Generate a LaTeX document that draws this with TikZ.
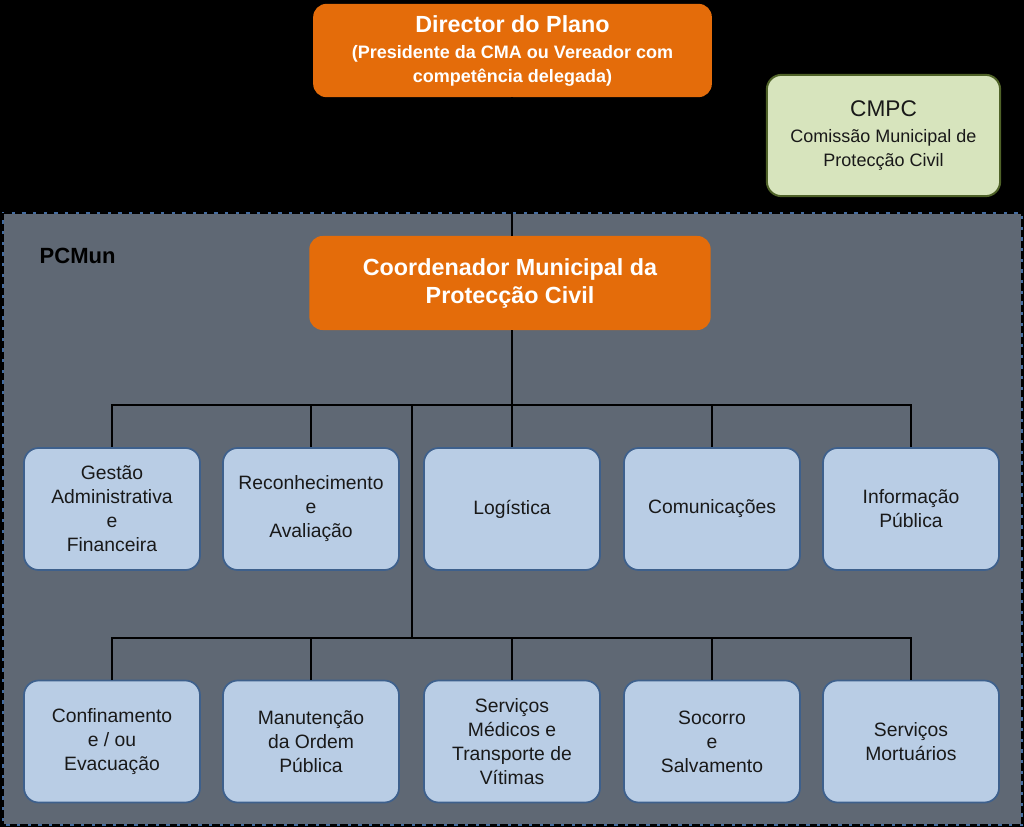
\documentclass[tikz,border=0pt]{standalone}
\usepackage{fontspec}
\setmainfont{Liberation Sans}
\usepackage{xcolor}
\usetikzlibrary{calc}

\definecolor{planOrange}{RGB}{228,108,10}
\definecolor{cellBlue}{RGB}{185,205,229}
\definecolor{cellEdge}{RGB}{62,96,140}
\definecolor{pcFill}{RGB}{95,104,116}
\definecolor{pcEdge}{RGB}{68,108,160}
\definecolor{cmpcFill}{RGB}{215,228,189}
\definecolor{cmpcEdge}{RGB}{79,98,40}

\tikzset{
  orangebox/.style={draw=none, fill=planOrange, rounded corners=10pt, text=white,
    align=center},
  cellbox/.style={draw=cellEdge, line width=1.3pt, fill=cellBlue, rounded corners=11pt,
    minimum width=132pt, minimum height=91.5pt, align=center, text=black!90,
    font=\fontsize{14.5}{18}\selectfont},
  wire/.style={line width=1.5pt, black}
}

\begin{document}
\begin{tikzpicture}[x=0.75pt, y=-0.75pt]

% =====================
% Page background
% =====================
\fill[black] (0,0) rectangle (1024,827);
\useasboundingbox (0,0) rectangle (1024,827);

% =====================
% PCMun area (dashed frame)
% =====================
\fill[pcFill] (3,213) rectangle (1022,825);
\draw[pcEdge, line width=1.6pt] (3,213) rectangle (1022,825);
\draw[black, line width=1.6pt, dash pattern=on 5.5pt off 2.5pt] (3,213) rectangle (1022,825);
\node[anchor=west, font=\fontsize{16.5}{20}\selectfont\bfseries, text=black] (pcmun) at (35,256) {PCMun};

% =====================
% Director and CMPC
% =====================
\node[orangebox, minimum width=299pt, minimum height=70pt,
  font=\fontsize{13.5}{18}\selectfont\bfseries] (dir) at (512.5,50.5)
  {{\fontsize{17.5}{20}\selectfont Director do Plano}\\[1.5pt]
   (Presidente da CMA ou Vereador com\\
   competência delegada)};

\node[draw=cmpcEdge, line width=1.5pt, fill=cmpcFill, rounded corners=11pt,
  minimum width=175pt, minimum height=91pt, align=center, text=black!90,
  font=\fontsize{13.5}{17.5}\selectfont] (cmpc) at (883.5,135.5)
  {{\fontsize{17}{20}\selectfont CMPC}\\[2pt]
   Comissão Municipal de\\
   Protecção Civil};

% =====================
% Coordinator
% =====================
\node[orangebox, minimum width=301pt, minimum height=70.5pt,
  font=\fontsize{17.5}{21}\selectfont\bfseries] (coord) at (510,283)
  {Coordenador Municipal da\\Protecção Civil};

% =====================
% First row
% =====================
\node[cellbox] (gaf) at (112,509) {Gestão\\Administrativa\\e\\Financeira};
\node[cellbox] (rav) at (311,509) {Reconhecimento\\e\\Avaliação};
\node[cellbox] (log) at (512,509) {Logística};
\node[cellbox] (com) at (712,509) {Comunicações};
\node[cellbox] (inf) at (911,509) {Informação\\Pública};

% =====================
% Second row
% =====================
\node[cellbox] (cev) at (112,741.5) {Confinamento\\e / ou\\Evacuação};
\node[cellbox] (mop) at (311,741.5) {Manutenção\\da Ordem\\Pública};
\node[cellbox] (smt) at (512,741.5) {Serviços\\Médicos e\\Transporte de\\Vítimas};
\node[cellbox] (sos) at (712,741.5) {Socorro\\e\\Salvamento};
\node[cellbox] (smo) at (911,741.5) {Serviços\\Mortuários};

% =====================
% Connectors
% =====================
\coordinate (bus1) at (512,405);
\coordinate (split) at (412,405);
\coordinate (bus2) at (412,638);

\draw[wire] (bus1 |- dir.south) -- (bus1 |- coord.north);
\draw[wire] (bus1 |- coord.south) -- (bus1);
\foreach \n in {gaf,rav,log,com,inf}
  \draw[wire] (bus1) -| (\n.north);
\draw[wire] (split) -- (bus2);
\foreach \n in {cev,mop,smt,sos,smo}
  \draw[wire] (bus2) -| (\n.north);

\end{tikzpicture}
\end{document}
